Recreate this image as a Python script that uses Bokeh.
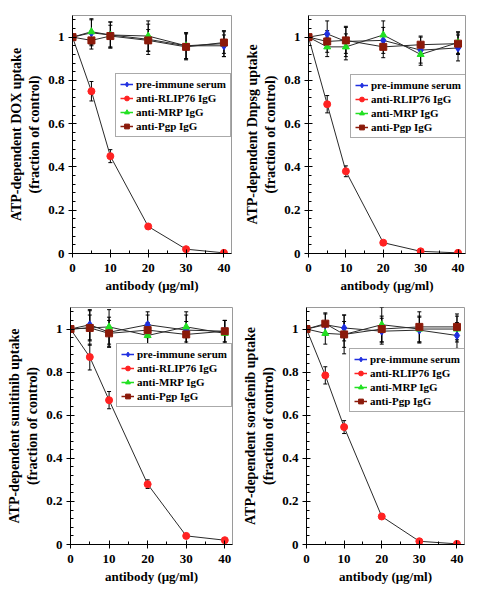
import math
from bokeh.plotting import figure
from bokeh.models import (ColumnDataSource, Whisker, TeeHead, Legend, LegendItem,
                          Range1d, FixedTicker)
from bokeh.layouts import column, row
from bokeh.embed import file_html
from bokeh.resources import INLINE

dose = [0, 5, 10, 20, 30, 40]
series_names = ["pre-immune serum", "anti-RLIP76 IgG", "anti-MRP IgG", "anti-Pgp IgG"]
x_label = "antibody (\u03bcg/ml)"

# Panel 1: DOX
dox_pre = [1.0, 1.02, 1.01, 0.99, 0.96, 0.96]
dox_rlip = [1.0, 0.75, 0.45, 0.125, 0.02, 0.003]
dox_mrp = [1.0, 1.025, 1.01, 1.005, 0.96, 0.97]
dox_pgp = [1.0, 0.985, 1.005, 0.985, 0.955, 0.975]
dox_pre_err = [0.0, 0.06, 0.06, 0.07, 0.06, 0.05]
dox_rlip_err = [0.0, 0.045, 0.03, 0.01, 0.005, 0.003]
dox_mrp_err = [0.0, 0.06, 0.06, 0.07, 0.06, 0.06]
dox_pgp_err = [0.0, 0.04, 0.05, 0.05, 0.06, 0.05]

# Panel 2: Dnpsg
dnp_pre = [1.0, 1.015, 0.98, 0.985, 0.94, 0.95]
dnp_rlip = [1.0, 0.69, 0.38, 0.05, 0.01, 0.003]
dnp_mrp = [1.0, 0.955, 0.955, 1.01, 0.92, 0.975]
dnp_pgp = [1.0, 0.98, 0.985, 0.955, 0.965, 0.97]
dnp_pre_err = [0.0, 0.06, 0.07, 0.06, 0.06, 0.06]
dnp_rlip_err = [0.0, 0.04, 0.025, 0.008, 0.005, 0.003]
dnp_mrp_err = [0.0, 0.045, 0.06, 0.065, 0.05, 0.05]
dnp_pgp_err = [0.0, 0.05, 0.06, 0.05, 0.04, 0.05]

# Panel 3: sunitinib
sun_pre = [1.0, 1.02, 0.985, 1.02, 0.995, 0.99]
sun_rlip = [1.0, 0.87, 0.67, 0.28, 0.04, 0.02]
sun_mrp = [1.0, 1.005, 1.01, 0.97, 1.01, 0.98]
sun_pgp = [1.0, 1.005, 0.98, 0.995, 0.975, 0.99]
sun_pre_err = [0.0, 0.07, 0.07, 0.06, 0.07, 0.05]
sun_rlip_err = [0.0, 0.06, 0.04, 0.02, 0.005, 0.005]
sun_mrp_err = [0.0, 0.06, 0.08, 0.06, 0.07, 0.06]
sun_pgp_err = [0.0, 0.08, 0.06, 0.07, 0.06, 0.05]

# Panel 4: sorafenib
sor_pre = [1.0, 1.02, 1.005, 0.99, 0.995, 0.97]
sor_rlip = [1.0, 0.785, 0.545, 0.13, 0.015, 0.003]
sor_mrp = [1.0, 0.98, 0.975, 1.02, 1.0, 1.0]
sor_pgp = [1.0, 1.025, 0.975, 1.0, 1.01, 1.01]
sor_pre_err = [0.0, 0.05, 0.06, 0.06, 0.06, 0.06]
sor_rlip_err = [0.0, 0.04, 0.03, 0.01, 0.005, 0.003]
sor_mrp_err = [0.0, 0.05, 0.06, 0.08, 0.06, 0.06]
sor_pgp_err = [0.0, 0.05, 0.09, 0.06, 0.07, 0.06]

colors = ["#1f2fe0", "#ff2222", "#22e022", "#8b1a0a"]
markers = ["diamond", "circle", "triangle", "square"]
msizes = [8, 7, 7, 7]

FONT = "Liberation Serif"

panels = [
    dict(label="ATP-dependent DOX uptake\n(fraction of control)",
         ys=[dox_pre, dox_rlip, dox_mrp, dox_pgp],
         es=[dox_pre_err, dox_rlip_err, dox_mrp_err, dox_pgp_err],
         w=240, h=300, bl=72, br=9, bt=13, bb=47, leg=(43, 116)),
    dict(label="ATP-dependent Dnpsg uptake\n(fraction of control)",
         ys=[dnp_pre, dnp_rlip, dnp_mrp, dnp_pgp],
         es=[dnp_pre_err, dnp_rlip_err, dnp_mrp_err, dnp_pgp_err],
         w=235, h=300, bl=68, br=10, bt=15, bb=47, leg=(42, 115)),
    dict(label="ATP-dependent sunitinib uptake\n(fraction of control)",
         ys=[sun_pre, sun_rlip, sun_mrp, sun_pgp],
         es=[sun_pre_err, sun_rlip_err, sun_mrp_err, sun_pgp_err],
         w=240, h=294, bl=70, br=8, bt=6, bb=47, leg=(46, 137)),
    dict(label="ATP-dependent sorafenib uptake\n(fraction of control)",
         ys=[sor_pre, sor_rlip, sor_mrp, sor_pgp],
         es=[sor_pre_err, sor_rlip_err, sor_mrp_err, sor_pgp_err],
         w=235, h=294, bl=63, br=11, bt=7, bb=50, leg=(43, 132)),
]


def make_panel(cfg):
    p = figure(width=cfg["w"], height=cfg["h"], output_backend="svg",
               toolbar_location=None, x_range=Range1d(0, 42), y_range=Range1d(0, 1.1),
               min_border_left=cfg["bl"], min_border_right=cfg["br"],
               min_border_top=cfg["bt"], min_border_bottom=cfg["bb"])
    p.xgrid.visible = False
    p.ygrid.visible = False
    p.outline_line_color = "#9a9a9a"
    p.outline_line_width = 1
    p.background_fill_color = "white"
    p.border_fill_color = "white"

    p.xaxis.ticker = FixedTicker(ticks=[0, 10, 20, 30, 40], minor_ticks=[5, 15, 25, 35])
    p.yaxis.ticker = FixedTicker(ticks=[0, 0.2, 0.4, 0.6, 0.8, 1.0],
                                 minor_ticks=[i * 0.04 for i in range(28)])
    p.yaxis.major_label_overrides = {0: "0", 1: "1", 1.0: "1"}
    for ax in (p.xaxis, p.yaxis):
        ax.axis_line_color = "black"
        ax.axis_line_width = 1
        ax.major_tick_in = 4
        ax.major_tick_out = 4
        ax.minor_tick_in = 3
        ax.minor_tick_out = 0
        ax.major_tick_line_color = "black"
        ax.minor_tick_line_color = "black"
        ax.major_label_text_font = FONT
        ax.major_label_text_font_style = "bold"
        ax.major_label_text_font_size = "13px"
        ax.major_label_text_color = "black"
        ax.axis_label_text_font = FONT
        ax.axis_label_text_font_style = "bold"
        ax.axis_label_text_color = "black"
    p.xaxis.axis_label_text_font_size = "13px"
    p.yaxis.axis_label_text_font_size = "14px"
    p.xaxis.major_label_standoff = 6
    p.yaxis.major_label_standoff = 4
    p.xaxis.axis_label = x_label
    p.xaxis.axis_label_standoff = 3
    p.yaxis.axis_label = cfg["label"]
    p.yaxis.axis_label_standoff = 3

    items = []
    order = [1, 0, 2, 3]
    renderers = {}
    for i in order:
        src = ColumnDataSource(dict(x=dose, y=cfg["ys"][i],
                                    up=[a + b for a, b in zip(cfg["ys"][i], cfg["es"][i])],
                                    lo=[a - b for a, b in zip(cfg["ys"][i], cfg["es"][i])]))
        p.line("x", "y", source=src, line_color="#2a2a2a", line_width=1)
        w = Whisker(base="x", upper="up", lower="lo", source=src, dimension="height",
                    line_color="black", line_width=1,
                    upper_head=TeeHead(size=4, line_color="black", line_width=1),
                    lower_head=TeeHead(size=4, line_color="black", line_width=1))
        p.add_layout(w)
        renderers[i] = src
    for i in order:
        src = renderers[i]
        sr = p.scatter("x", "y", source=src, marker=markers[i], size=msizes[i],
                       fill_color=colors[i], line_color=colors[i])
        lr = p.line(x=[math.nan], y=[math.nan], line_color=colors[i], line_width=1.5)
        renderers[i] = (lr, sr)
    for i in range(4):
        items.append(LegendItem(label=series_names[i], renderers=list(renderers[i])))

    leg = Legend(items=items, location=cfg["leg"], orientation="vertical",
                 label_text_font=FONT, label_text_font_style="bold",
                 label_text_font_size="11px", label_text_color="black",
                 label_height=12, label_standoff=3,
                 glyph_height=12, glyph_width=13, spacing=2, padding=4, margin=0,
                 border_line_color="#555555", border_line_width=1,
                 background_fill_color="white", background_fill_alpha=1)
    p.add_layout(leg, "center")
    return p


figs = [make_panel(c) for c in panels]
layout = column(row(figs[0], figs[1]), row(figs[2], figs[3]))

open("out.html", "w").write(file_html(layout, INLINE))
